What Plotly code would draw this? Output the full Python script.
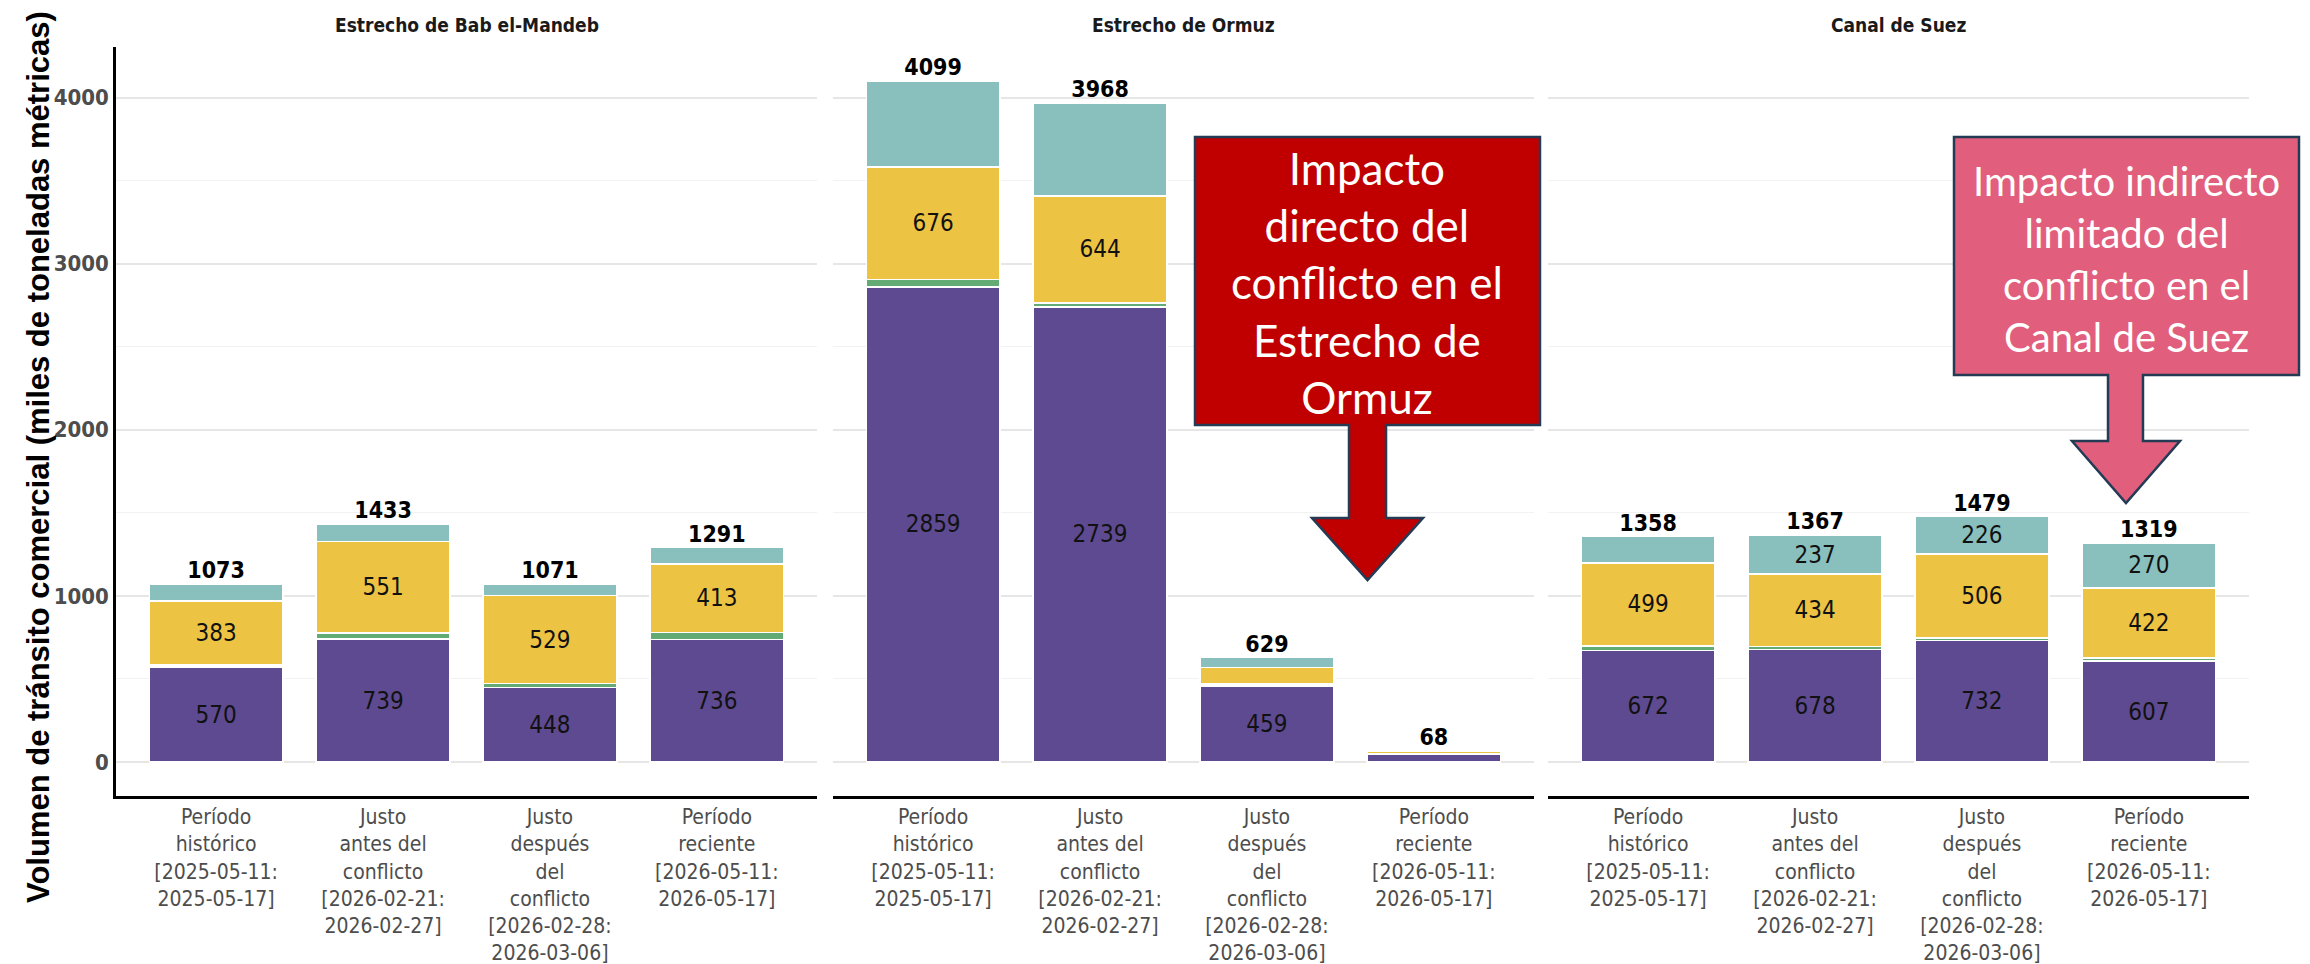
import plotly.graph_objects as go
from plotly.subplots import make_subplots

# ---- data -------------------------------------------------------------
chokepoints = ["Estrecho de Bab el-Mandeb", "Estrecho de Ormuz", "Canal de Suez"]

periods = [
    "Período<br>histórico<br>[2025-05-11:<br>2025-05-17]",
    "Justo<br>antes del<br>conflicto<br>[2026-02-21:<br>2026-02-27]",
    "Justo<br>después<br>del<br>conflicto<br>[2026-02-28:<br>2026-03-06]",
    "Período<br>reciente<br>[2026-05-11:<br>2026-05-17]",
]

vessel_types = ["Petroleros", "Carga general", "Graneleros", "Portacontenedores"]
type_colors = ["#5E4A90", "#63AB74", "#EDC343", "#89BFBD"]

# miles de toneladas métricas, one list per chokepoint, one value per period
tanker = {
    "Estrecho de Bab el-Mandeb": [570, 739, 448, 736],
    "Estrecho de Ormuz": [2859, 2739, 459, 47],
    "Canal de Suez": [672, 678, 732, 607],
}
general_cargo = {
    "Estrecho de Bab el-Mandeb": [15, 38, 24, 44],
    "Estrecho de Ormuz": [45, 25, 12, 3],
    "Canal de Suez": [27, 18, 15, 20],
}
dry_bulk = {
    "Estrecho de Bab el-Mandeb": [383, 551, 529, 413],
    "Estrecho de Ormuz": [676, 644, 97, 15],
    "Canal de Suez": [499, 434, 506, 422],
}
container = {
    "Estrecho de Bab el-Mandeb": [105, 105, 70, 98],
    "Estrecho de Ormuz": [519, 560, 61, 3],
    "Canal de Suez": [160, 237, 226, 270],
}
series_by_type = [tanker, general_cargo, dry_bulk, container]

# ---- layout helpers (pixel -> paper) -----------------------------------
W, H = 2310, 964
ML, MR, MT, MB = 116, 61, 47, 168
PW, PH = W - ML - MR, H - MT - MB


def px(x):
    return (x - ML) / PW


def py(y):
    return (H - MB - y) / PH


panel_px = [(116, 817), (833, 1534), (1548, 2249)]

LABEL_FONT = "Liberation Sans Narrow, DejaVu Sans Condensed, Roboto, sans-serif"

fig = make_subplots(rows=1, cols=3, shared_yaxes=True)

for col, cp in enumerate(chokepoints, start=1):
    totals = [sum(s[cp][i] for s in series_by_type) for i in range(len(periods))]
    for vt, color, series in zip(vessel_types, type_colors, series_by_type):
        vals = series[cp]
        labels = [
            str(v) if v >= 150 and v / t >= 0.15 else ""
            for v, t in zip(vals, totals)
        ]
        fig.add_trace(
            go.Bar(
                x=periods,
                y=vals,
                name=vt,
                marker={"color": color, "line": {"color": "white", "width": 1.6}},
                width=0.8,
                text=labels,
                textposition="inside",
                insidetextanchor="middle",
                constraintext="none",
                textangle=0,
                textfont={"family": LABEL_FONT, "size": 24, "color": "#111111"},
                showlegend=False,
                hoverinfo="skip",
            ),
            row=1,
            col=col,
        )
    fig.add_trace(
        go.Scatter(
            x=periods,
            y=totals,
            mode="text",
            text=[f"<b>{t}</b>" for t in totals],
            textposition="top center",
            textfont={"family": LABEL_FONT, "size": 23, "color": "black"},
            cliponaxis=False,
            showlegend=False,
            hoverinfo="skip",
        ),
        row=1,
        col=col,
    )

    x0, x1 = panel_px[col - 1]
    fig.update_xaxes(
        domain=[px(x0), px(x1)],
        range=[-0.6, 3.6],
        automargin=False,
        showline=True,
        linecolor="black",
        linewidth=2.5,
        showgrid=False,
        ticks="",
        tickfont={"family": LABEL_FONT, "size": 21, "color": "#4D4D4D"},
        row=1,
        col=col,
    )
    fig.add_annotation(
        text=f"<b>{cp}</b>",
        xref="paper",
        yref="paper",
        x=(px(x0) + px(x1)) / 2,
        y=py(25),
        xanchor="center",
        yanchor="middle",
        showarrow=False,
        font={"family": LABEL_FONT, "size": 19, "color": "#1A1A1A"},
    )

fig.update_yaxes(
    range=[-205, 4304],
    dtick=1000,
    automargin=False,
    showgrid=True,
    gridcolor="#E6E6E6",
    gridwidth=1.6,
    minor={"dtick": 500, "showgrid": True, "gridcolor": "#F2F2F2", "gridwidth": 1},
    zeroline=False,
    ticks="",
)
fig.update_yaxes(
    showline=True,
    linecolor="black",
    linewidth=2.5,
    tickfont={"family": LABEL_FONT, "size": 22, "color": "#4D4D4D", "weight": "bold"},
    row=1,
    col=1,
)

# y-axis title
fig.add_annotation(
    text="<b>Volumen de tránsito comercial (miles de toneladas métricas)</b>",
    xref="paper",
    yref="paper",
    x=px(38),
    y=py(457),
    xanchor="center",
    yanchor="middle",
    textangle=-90,
    showarrow=False,
    font={"family": "Liberation Sans, Arial, sans-serif", "size": 31, "color": "black"},
)


# ---- callouts -----------------------------------------------------------
def callout_path(bx0, by0, bx1, by1, sx0, sx1, hy, hx0, hx1, tip_y):
    pts = [
        (bx0, by0), (bx1, by0), (bx1, by1), (sx1, by1), (sx1, hy), (hx1, hy),
        ((hx0 + hx1) / 2, tip_y), (hx0, hy), (sx0, hy), (sx0, by1), (bx0, by1),
    ]
    return "M " + " L ".join(f"{px(x):.5f},{py(y):.5f}" for x, y in pts) + " Z"


fig.add_shape(
    type="path",
    xref="paper",
    yref="paper",
    path=callout_path(1195, 137, 1540, 425, 1349, 1386, 518, 1312, 1423, 580),
    fillcolor="#C00000",
    line={"color": "#243B55", "width": 2.5},
    layer="above",
)
fig.add_annotation(
    text="Impacto<br>directo del<br>conflicto en el<br>Estrecho de<br>Ormuz",
    xref="paper",
    yref="paper",
    x=px(1367),
    y=py(282),
    xanchor="center",
    yanchor="middle",
    showarrow=False,
    align="center",
    font={"family": "Lato, Open Sans, sans-serif", "size": 44, "color": "white"},
)

fig.add_shape(
    type="path",
    xref="paper",
    yref="paper",
    path=callout_path(1954, 137, 2299, 375, 2108, 2143, 441, 2072, 2180, 503),
    fillcolor="#E15F7D",
    line={"color": "#243B55", "width": 2.5},
    layer="above",
)
fig.add_annotation(
    text="Impacto indirecto<br>limitado del<br>conflicto en el<br>Canal de Suez",
    xref="paper",
    yref="paper",
    x=px(2126),
    y=py(259),
    xanchor="center",
    yanchor="middle",
    showarrow=False,
    align="center",
    font={"family": "Lato, Open Sans, sans-serif", "size": 40, "color": "white"},
)

fig.update_layout(
    width=W,
    height=H,
    barmode="stack",
    bargap=0.2,
    margin={"l": ML, "r": MR, "t": MT, "b": MB, "autoexpand": False},
    plot_bgcolor="white",
    paper_bgcolor="white",
    showlegend=False,
)

fig.write_html(
    "out.html",
    config={"displayModeBar": False},
    post_script="document.body.style.margin = '0px';",
)
